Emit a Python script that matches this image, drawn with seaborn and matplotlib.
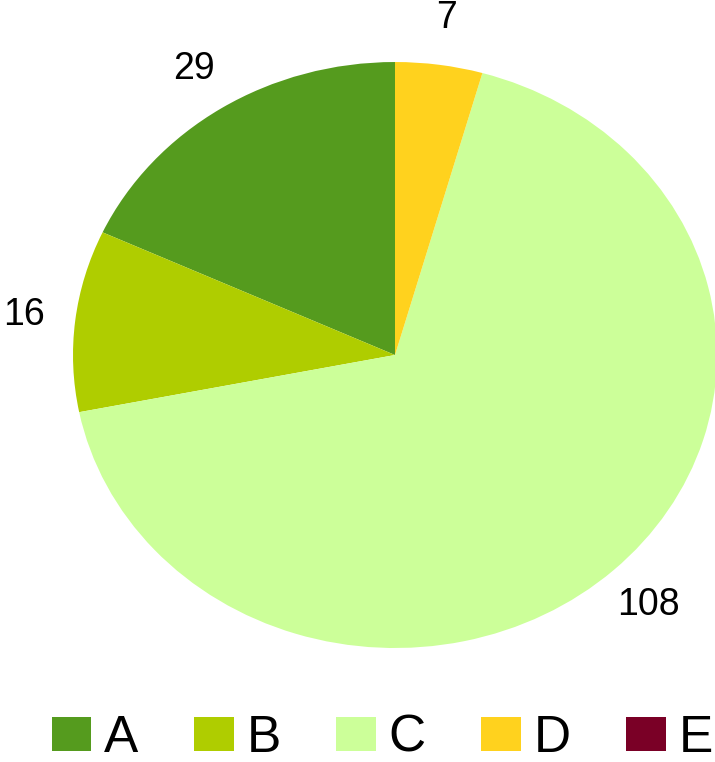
import numpy as np
import matplotlib.pyplot as plt
import seaborn as sns
from matplotlib.patches import Rectangle

# data
categories = ['A', 'B', 'C', 'D', 'E']
counts = [29, 16, 108, 7, 0]
colors = ['#559B1E', '#AFCD00', '#CCFF99', '#FFD21E', '#7A0026']

sns.set_theme(style='white')
plt.rcParams['font.family'] = ['Liberation Sans', 'DejaVu Sans']
plt.rcParams['text.color'] = 'black'

fig = plt.figure(figsize=(7.15, 7.62), dpi=100)
ax = fig.add_axes([0.1021, 0.1496, 0.9007, 0.769])

labels = [str(v) if v > 0 else '' for v in counts]
wedges, texts = ax.pie(counts, labels=labels, colors=sns.color_palette(colors),
                       startangle=90, counterclock=True, labeldistance=1.16,
                       wedgeprops=dict(linewidth=0),
                       textprops=dict(fontsize=27, color='black'))
for t in texts:
    t.set_ha('center')
    t.set_va('center')
ax.set_aspect('auto')
ax.set_xlim(-1, 1)
ax.set_ylim(-1, 1)
ax.axis('off')

handles = [Rectangle((0, 0), 1, 1, facecolor=c, edgecolor='none') for c in colors]
leg = fig.legend(handles, categories, loc='lower center', ncol=5, fontsize=37,
                 bbox_to_anchor=(0.535, -0.028), frameon=False,
                 handlelength=0.77, handleheight=0.63, handletextpad=0.25,
                 columnspacing=1.08, borderaxespad=0)
for t in leg.get_texts():
    t.set_color('black')

fig.savefig('out.png', dpi=100)
